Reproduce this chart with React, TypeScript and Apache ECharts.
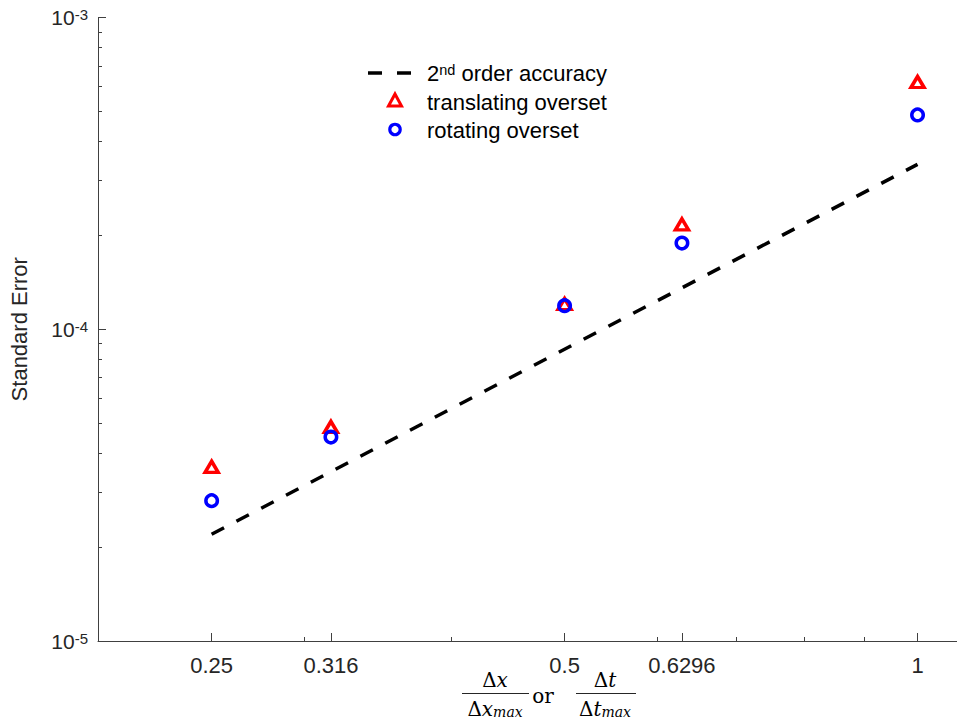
import React, { useEffect, useRef } from "react";
import * as echarts from "echarts";

// ---- data ----
const xValues = [0.25, 0.316, 0.5, 0.6296, 1];
const translatingOverset = [3.62e-5, 4.86e-5, 1.205e-4, 2.17e-4, 6.21e-4];
const rotatingOverset = [2.82e-5, 4.51e-5, 1.19e-4, 1.89e-4, 4.87e-4];
const secondOrderX = [0.25, 1];
const secondOrderY = [2.2e-5, 3.38e-4];

const xTickValues = [0.25, 0.316, 0.5, 0.6296, 1];
const xTickLabels = ["0.25", "0.316", "0.5", "0.6296", "1"];
const xMinorTicks = [0.3, 0.4, 0.6, 0.7, 0.8, 0.9];
const yTickValues = [1e-5, 1e-4, 1e-3];
const yTickExponents = ["-5", "-4", "-3"];
const yMinorTicks = [
  2e-5, 3e-5, 4e-5, 5e-5, 6e-5, 7e-5, 8e-5, 9e-5,
  2e-4, 3e-4, 4e-4, 5e-4, 6e-4, 7e-4, 8e-4, 9e-4,
];

const seriesNames = ["2nd order accuracy", "translating overset", "rotating overset"];
const yAxisTitle = "Standard Error";

const SANS = '"Liberation Sans", Arial, Helvetica, sans-serif';
const SERIF = '"DejaVu Serif", "Liberation Serif", serif';
const TXT = "#262626";
const AXIS = "#404040";
const RED = "#ff0000";
const BLUE = "#0000ff";

export default function App() {
  const ref = useRef<HTMLDivElement>(null);

  useEffect(() => {
    if (!ref.current) return;
    const chart = echarts.init(ref.current, null, { renderer: "svg" });

    const baseXAxis = {
      type: "log",
      logBase: 10,
      min: 0.2,
      max: 1.0806,
      gridIndex: 0,
      position: "bottom",
      splitLine: { show: false },
      minorTick: { show: false },
      axisPointer: { show: false },
    };
    const baseYAxis = {
      type: "log",
      logBase: 10,
      min: 1e-5,
      max: 1e-3,
      gridIndex: 0,
      position: "left",
      splitLine: { show: false },
      minorTick: { show: false },
      axisPointer: { show: false },
    };

    const fracRich = {
      d: { fontFamily: SERIF, fontSize: 20, color: TXT, lineHeight: 20, verticalAlign: "top" },
      i: { fontFamily: SERIF, fontStyle: "italic", fontSize: 20, color: TXT, lineHeight: 20, verticalAlign: "top" },
      sub: {
        fontFamily: SERIF,
        fontStyle: "italic",
        fontSize: 14,
        color: TXT,
        lineHeight: 14,
        padding: [9, 0, 0, 0],
        verticalAlign: "bottom",
      },
    };

    const option: any = {
      animation: false,
      backgroundColor: "#ffffff",
      grid: { left: 97.7, top: 17.5, right: 0, height: 623.5, containLabel: false },
      xAxis: [
        {
          ...baseXAxis,
          axisLine: { show: true, lineStyle: { color: AXIS, width: 1 } },
          axisTick: {
            show: true,
            inside: true,
            length: 8,
            customValues: xTickValues,
            lineStyle: { color: AXIS, width: 1 },
          },
          axisLabel: {
            show: true,
            customValues: xTickValues,
            margin: 13,
            fontFamily: SANS,
            fontSize: 22,
            color: TXT,
            formatter: (v: number) => {
              const i = xTickValues.findIndex((t) => Math.abs(t - v) / t < 1e-3);
              return i >= 0 ? xTickLabels[i] : "";
            },
          },
        },
        {
          ...baseXAxis,
          axisLine: { show: false },
          axisTick: {
            show: true,
            inside: true,
            length: 4,
            customValues: xMinorTicks,
            lineStyle: { color: AXIS, width: 1 },
          },
          axisLabel: { show: false },
        },
      ],
      yAxis: [
        {
          ...baseYAxis,
          name: yAxisTitle,
          nameLocation: "middle",
          nameGap: 68,
          nameTextStyle: { fontFamily: SANS, fontSize: 22, color: TXT },
          axisLine: { show: true, lineStyle: { color: AXIS, width: 1 } },
          axisTick: {
            show: true,
            inside: true,
            length: 8,
            customValues: yTickValues,
            lineStyle: { color: AXIS, width: 1 },
          },
          axisLabel: {
            show: true,
            customValues: yTickValues,
            margin: 10,
            formatter: (v: number) => {
              const i = yTickValues.findIndex((t) => Math.abs(Math.log10(t) - Math.log10(v)) < 0.01);
              return i >= 0 ? `{b|10}{s|${yTickExponents[i]}}` : "";
            },
            rich: {
              b: { fontFamily: SANS, fontSize: 21, lineHeight: 21, color: TXT, verticalAlign: "bottom" },
              s: {
                fontFamily: SANS,
                fontSize: 15,
                lineHeight: 15,
                color: TXT,
                padding: [0, 0, 10, 0],
                verticalAlign: "top",
              },
            },
          },
        },
        {
          ...baseYAxis,
          axisLine: { show: false },
          axisTick: {
            show: true,
            inside: true,
            length: 4,
            customValues: yMinorTicks,
            lineStyle: { color: AXIS, width: 1 },
          },
          axisLabel: { show: false },
        },
      ],
      series: [
        {
          name: seriesNames[0],
          type: "line",
          xAxisIndex: 0,
          yAxisIndex: 0,
          data: secondOrderX.map((x, i) => [x, secondOrderY[i]]),
          symbol: "none",
          lineStyle: { color: "#000000", width: 3.5, type: [14, 14], cap: "butt" },
          emphasis: { disabled: true },
          silent: true,
        },
        {
          name: seriesNames[1],
          type: "scatter",
          xAxisIndex: 0,
          yAxisIndex: 0,
          data: xValues.map((x, i) => [x, translatingOverset[i]]),
          symbol: "triangle",
          symbolSize: [13, 11],
          itemStyle: { color: "transparent", borderColor: RED, borderWidth: 3.5, opacity: 1 },
          emphasis: { disabled: true },
          silent: true,
        },
        {
          name: seriesNames[2],
          type: "scatter",
          xAxisIndex: 0,
          yAxisIndex: 0,
          data: xValues.map((x, i) => [x, rotatingOverset[i]]),
          symbol: "circle",
          symbolSize: 11.5,
          itemStyle: { color: "transparent", borderColor: BLUE, borderWidth: 3.5, opacity: 1 },
          emphasis: { disabled: true },
          silent: true,
        },
      ],
      graphic: [
        // ---- legend ----
        {
          type: "line",
          shape: { x1: 368, y1: 73, x2: 412, y2: 73 },
          style: { stroke: "#000", lineWidth: 3.5, lineDash: [14, 15] },
          silent: true,
        },
        {
          type: "text",
          x: 427,
          y: 73,
          style: {
            text: "{a|2}{s|nd}{a| order accuracy}",
            verticalAlign: "middle",
            align: "left",
            rich: {
              a: { fontFamily: SANS, fontSize: 22, lineHeight: 22, color: "#000", verticalAlign: "bottom" },
              s: { fontFamily: SANS, fontSize: 14.5, lineHeight: 14.5, color: "#000", padding: [0, 0, 11, 0], verticalAlign: "top" },
            },
          },
          silent: true,
        },
        {
          type: "polygon",
          shape: { points: [[395, 94], [401.5, 106], [388.5, 106]] },
          style: { fill: "none", stroke: RED, lineWidth: 3 },
          silent: true,
        },
        {
          type: "text",
          x: 427,
          y: 102,
          style: {
            text: seriesNames[1],
            fontFamily: SANS,
            fontSize: 22,
            fill: "#000",
            verticalAlign: "middle",
            align: "left",
          },
          silent: true,
        },
        {
          type: "circle",
          shape: { cx: 395, cy: 129.5, r: 5.2 },
          style: { fill: "none", stroke: BLUE, lineWidth: 3.2 },
          silent: true,
        },
        {
          type: "text",
          x: 427,
          y: 130,
          style: {
            text: seriesNames[2],
            fontFamily: SANS,
            fontSize: 22,
            fill: "#000",
            verticalAlign: "middle",
            align: "left",
          },
          silent: true,
        },
        // ---- x-axis title: Δx/Δx_max or Δt/Δt_max ----
        {
          type: "text",
          x: 495,
          y: 670,
          style: { text: "{d|Δ}{i|x}", align: "center", verticalAlign: "top", rich: fracRich },
          silent: true,
        },
        {
          type: "line",
          shape: { x1: 462, y1: 693.5, x2: 529, y2: 693.5 },
          style: { stroke: TXT, lineWidth: 1 },
          silent: true,
        },
        {
          type: "text",
          x: 495,
          y: 699,
          style: { text: "{d|Δ}{i|x}{sub|max}", align: "center", verticalAlign: "top", rich: fracRich },
          silent: true,
        },
        {
          type: "text",
          x: 543,
          y: 686,
          style: { text: "{d|or}", align: "center", verticalAlign: "top", rich: fracRich },
          silent: true,
        },
        {
          type: "text",
          x: 605,
          y: 670,
          style: { text: "{d|Δ}{i|t}", align: "center", verticalAlign: "top", rich: fracRich },
          silent: true,
        },
        {
          type: "line",
          shape: { x1: 576, y1: 693.5, x2: 636, y2: 693.5 },
          style: { stroke: TXT, lineWidth: 1 },
          silent: true,
        },
        {
          type: "text",
          x: 605,
          y: 699,
          style: { text: "{d|Δ}{i|t}{sub|max}", align: "center", verticalAlign: "top", rich: fracRich },
          silent: true,
        },
      ],
    };

    chart.setOption(option);
    return () => chart.dispose();
  }, []);

  return (
    <div
      ref={ref}
      style={{ position: "fixed", left: 0, top: 0, width: 957, height: 727, background: "#fff" }}
    />
  );
}
